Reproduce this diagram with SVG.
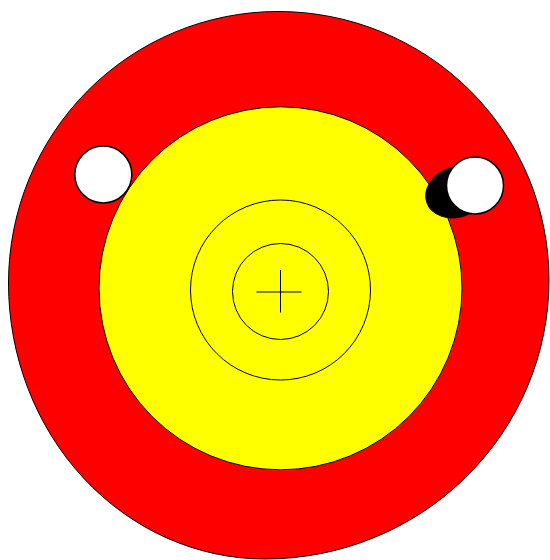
<svg xmlns="http://www.w3.org/2000/svg" width="550" height="560" viewBox="0 0 550 560">
<style>
.s{stroke:#000;stroke-width:1}
.w{fill:#fff;stroke:#000;stroke-width:1.5}
</style>
<rect width="550" height="560" fill="#fff"/>
<g id="outer"><path class="s" fill="#f00" d="M 278 11.5 A 271 268.5 0 0 1 549 280 A 284 279 0 0 1 265 559 A 256.5 276 0 0 1 8.5 283 A 269.5 271.5 0 0 1 278 11.5 Z"/></g>
<g id="inner"><circle class="s" cx="280.5" cy="288.3" r="181.5" fill="#ff0"/></g>
<g id="ring"><circle class="s" cx="280.5" cy="290" r="90" fill="none"/></g>
<g id="bull"><circle class="s" cx="280.5" cy="291.5" r="48" fill="none"/></g>
<g id="cross"><line class="s" x1="256.5" y1="292" x2="301.5" y2="292"/><line class="s" x1="280.5" y1="270" x2="280.5" y2="312.5"/></g>
<g id="left-hole"><circle class="w" cx="103.3" cy="174.5" r="28.5"/></g>
<g id="right-hole">
<ellipse cx="457" cy="192" rx="32" ry="25" transform="rotate(-20 457 192)" fill="#000" stroke="#000"/>
<circle class="w" cx="475" cy="185.5" r="28.5"/>
</g>
</svg>
